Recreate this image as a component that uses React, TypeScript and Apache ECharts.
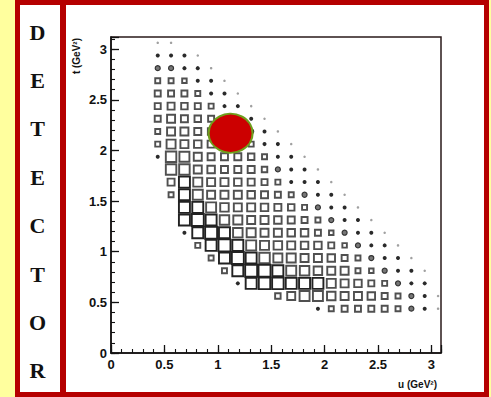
import React, { useEffect, useRef } from "react";
import * as echarts from "echarts";

// bin centres (GeV^2)
const uBins = [0.4375, 0.5625, 0.6875, 0.8125, 0.9375, 1.0625, 1.1875, 1.3125, 1.4375, 1.5625, 1.6875, 1.8125, 1.9375, 2.0625, 2.1875, 2.3125, 2.4375, 2.5625, 2.6875, 2.8125, 2.9375, 3.0625];
const tBins = [3.0625, 2.9375, 2.8125, 2.6875, 2.5625, 2.4375, 2.3125, 2.1875, 2.0625, 1.9375, 1.8125, 1.6875, 1.5625, 1.4375, 1.3125, 1.1875, 1.0625, 0.9375, 0.8125, 0.6875, 0.5625, 0.4375];

// box content per (t row, u column), 0 = empty bin
const boxContent: number[][] = [
  [1.5, 1.5],
  [2.5, 2.5, 2.5, 1.5],
  [3.5, 3.5, 2.5, 2.5, 1.5],
  [5, 5, 4.5, 3, 2.5, 1.5],
  [6, 6, 6, 5, 3, 2.5, 1.5],
  [6, 7, 6.5, 6, 5, 3, 2.5, 1.5],
  [6, 8, 7, 6.5, 6, 5, 4, 2.5, 1.5],
  [5, 8, 8, 7, 6.5, 6, 5, 4, 2.5, 2],
  [5, 9, 8, 7.5, 7, 6.5, 6, 5, 3, 2.5, 1.5],
  [2.5, 10.5, 10, 8, 7, 7, 7, 6.5, 5, 3, 2.5, 1.5],
  [0, 10.5, 10.5, 8, 7.5, 7, 7, 7, 5.5, 3.5, 2.5, 2.5, 1.5],
  [0, 7, 11, 9, 8, 8, 7.5, 7, 6, 5, 3, 2.5, 2.5, 1.5],
  [0, 5, 11, 10, 8, 8, 8, 7.5, 7, 6, 5, 3.5, 2.5, 2.5, 1.5],
  [0, 0, 11, 11, 10, 8.5, 8, 8, 7.5, 7, 6.5, 5, 3.5, 2.5, 2.5, 1.5],
  [0, 0, 11, 12, 11, 9.5, 9, 8, 8, 7.5, 7, 6, 5, 3.5, 2.5, 2.5, 1.5],
  [0, 0, 2.5, 11, 12, 11, 9.5, 9, 8, 8, 7.5, 7.5, 6, 4.5, 3.5, 2.5, 2.5, 1.5],
  [0, 0, 0, 5, 11, 12, 11, 10, 9, 8.5, 8, 7.5, 7.5, 6, 4.5, 3.5, 2.5, 2.5, 1.5],
  [0, 0, 0, 0, 5, 11, 12, 11, 10.5, 9, 9, 8, 8, 7.5, 6, 5, 3.5, 2.5, 2.5, 1.5],
  [0, 0, 0, 0, 0, 5, 11, 12, 12, 11, 10, 9.5, 8.5, 8, 8, 5, 4.5, 3.5, 2.5, 2.5, 1.5],
  [0, 0, 0, 0, 0, 0, 2.5, 11, 11.5, 11.5, 11, 11, 11, 9, 8, 7.5, 6, 5, 3.5, 2.5, 2.5],
  [0, 0, 0, 0, 0, 0, 0, 0, 0, 5.5, 8, 10, 10, 8.5, 8, 8, 7.5, 6, 5, 3.5, 2.5, 1.5],
  [0, 0, 0, 0, 0, 0, 0, 0, 0, 0, 0, 0, 2.5, 5, 6, 6, 6, 6, 5, 3.5, 2.5, 1.5],
];

const tickLabels = ["0", "0.5", "1", "1.5", "2", "2.5", "3"];
const detectorLetters = ["D", "E", "T", "E", "C", "T", "O", "R"];
const spot = [[1.12, 2.17]];

const RED = "#b50000";
const SANS = "Liberation Sans, Arial, sans-serif";

function styleFor(s: number) {
  if (s <= 2) return { symbol: "circle", symbolSize: 2.5, itemStyle: { color: "#a0a0a0", borderWidth: 0, opacity: 1 } };
  if (s <= 3) return { symbol: "circle", symbolSize: 4, itemStyle: { color: "#2a2a2a", borderWidth: 0, opacity: 1 } };
  if (s <= 4) return { symbol: "circle", symbolSize: 5, itemStyle: { color: "#777", borderColor: "#333", borderWidth: 1.2, opacity: 1 } };
  return {
    symbol: "rect",
    symbolSize: s,
    itemStyle: { color: "rgba(255,255,255,0)", borderColor: s >= 11 ? "#222" : "#505050", borderWidth: 1.9, opacity: 1 },
  };
}

const labelFmt = (v: number) => {
  const l = String(Math.round(v * 100) / 100);
  return tickLabels.indexOf(l) >= 0 ? l : "";
};

export default function App() {
  const ref = useRef<HTMLDivElement>(null);
  useEffect(() => {
    if (!ref.current) return;
    const chart = echarts.init(ref.current, null, { renderer: "svg" });
    const boxData: any[] = [];
    boxContent.forEach((row, r) =>
      row.forEach((s, c) => {
        if (s > 0) boxData.push({ value: [uBins[c], tBins[r], s], ...styleFor(s) });
      })
    );
    const majorAxis = (max: number, pos: string) => ({
      type: "value",
      position: pos,
      min: 0,
      max,
      interval: 0.5,
      axisLine: { show: true, lineStyle: { color: "#111", width: 1.5 } },
      axisTick: { show: true, inside: true, length: 8, lineStyle: { color: "#111", width: 1.3 } },
      axisLabel: {
        formatter: labelFmt,
        margin: pos === "bottom" ? 5 : 4,
        fontFamily: SANS,
        fontWeight: "bold",
        fontSize: 13,
        color: "#111",
      },
      splitLine: { show: false },
    });
    const minorAxis = (max: number, pos: string) => ({
      type: "value",
      position: pos,
      min: 0,
      max,
      interval: 0.1,
      axisLine: { show: false },
      axisTick: { show: true, inside: true, length: 4, lineStyle: { color: "#111", width: 1.1 } },
      axisLabel: { show: false },
      splitLine: { show: false },
    });
    chart.setOption({
      animation: false,
      backgroundColor: "#ffff9e",
      grid: { left: 111, top: 37, width: 330, height: 316, show: true, borderColor: "#2a1a1a", borderWidth: 1.5, backgroundColor: "rgba(0,0,0,0)" },
      xAxis: [majorAxis(3.09, "bottom"), minorAxis(3.09, "bottom")],
      yAxis: [majorAxis(3.12, "left"), minorAxis(3.12, "left")],
      series: [
        {
          type: "scatter",
          data: boxData,
          z: 2,
        },
        {
          type: "scatter",
          symbol: "circle",
          symbolSize: [44, 39],
          data: spot,
          itemStyle: { color: "#cc0000", borderColor: "#6f9e1c", borderWidth: 2, opacity: 1 },
          z: 5,
        },
      ],
      graphic: [
        {
          type: "rect",
          z: -10,
          shape: { x: 17.5, y: 2.5, width: 469, height: 392 },
          style: { fill: "#fff", stroke: RED, lineWidth: 5 },
        },
        { type: "rect", z: -9, shape: { x: 60, y: 0, width: 6, height: 397 }, style: { fill: RED } },
        ...detectorLetters.map((ch, i) => ({
          type: "text",
          z: 10,
          x: 37.5,
          y: 32 + 48.4 * i,
          style: {
            text: ch,
            fill: "#111",
            font: "bold 22px 'Liberation Serif', 'Times New Roman', serif",
            align: "center",
            verticalAlign: "middle",
          },
        })),
        {
          type: "text",
          z: 10,
          x: 437,
          y: 384,
          style: { text: "u (GeV²)", fill: "#111", font: "bold 10px " + SANS, align: "right", verticalAlign: "middle" },
        },
        {
          type: "text",
          z: 10,
          x: 76,
          y: 38,
          rotation: Math.PI / 2,
          style: { text: "t (GeV²)", fill: "#111", font: "bold 10px " + SANS, align: "right", verticalAlign: "middle" },
        },
      ],
    });
    return () => chart.dispose();
  }, []);
  return <div ref={ref} style={{ position: "fixed", left: 0, top: 0, width: 491, height: 397 }} />;
}
